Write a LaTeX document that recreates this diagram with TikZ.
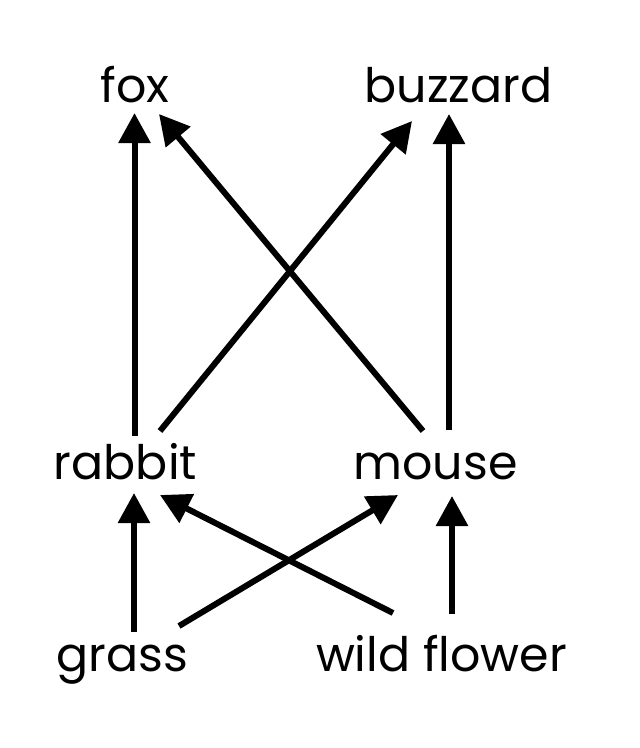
\documentclass[tikz,border=0pt]{standalone}
\usepackage{fontspec}
\setmainfont{Poppins}
\usetikzlibrary{arrows.meta,calc}
\begin{document}
\begin{tikzpicture}[x=1pt,y=-1pt,
  lbl/.style={inner sep=0pt,anchor=base,font=\fontsize{47.5}{50}\selectfont},
  arr/.style={line width=6pt,-{Triangle[length=30pt,width=31pt]}}]
\fill[white] (0,0) rectangle (640,748);
\useasboundingbox (0,0) rectangle (640,748);
\node[lbl] (fox) at (135,102) {fox};
\node[lbl] (buzzard) at (458.5,102) {buzzard};
\node[lbl] (rabbit) at (125.5,479) {rabbit};
\node[lbl] (mouse) at (435.5,479) {mouse};
\node[lbl] (grass) at (122.5,671) {grass};
\node[lbl] (wf) at (441.5,671) {wild flower};
\draw[arr] ($(rabbit.base)+(9,-43)$) -- ($(fox.base)+(-0.5,11)$);
\draw[arr] ($(mouse.base)+(-12.5,-48)$) -- ($(fox.base)+(24,12)$);
\draw[arr] ($(rabbit.base)+(34.5,-48)$) -- ($(buzzard.base)+(-46.5,19)$);
\draw[arr] ($(mouse.base)+(13.5,-49)$) -- ($(buzzard.base)+(-9.5,12)$);
\draw[arr] ($(grass.base)+(11.5,-39)$) -- ($(rabbit.base)+(8.5,14)$);
\draw[arr] ($(wf.base)+(-48.5,-58)$) -- ($(rabbit.base)+(34.5,16)$);
\draw[arr] ($(grass.base)+(56.5,-45)$) -- ($(mouse.base)+(-37.5,16)$);
\draw[arr] ($(wf.base)+(10.5,-57)$) -- ($(mouse.base)+(16.5,17)$);
\end{tikzpicture}
\end{document}
